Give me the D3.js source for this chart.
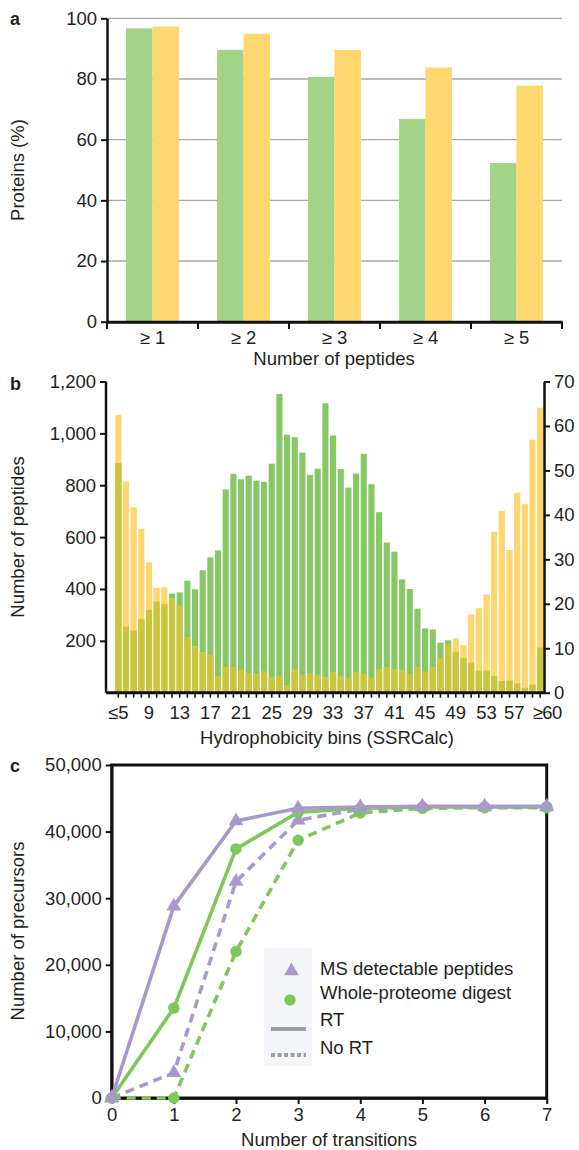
<!DOCTYPE html>
<html>
<head>
<meta charset="utf-8">
<script src="https://cdn.jsdelivr.net/npm/d3@7"></script>
<style>
  body { margin: 0; background: #fff; }
  svg text { font-family: "Liberation Sans", Arial, sans-serif; fill: #231f20; }
</style>
</head>
<body>
<svg id="chart" width="579" height="1150"></svg>
<script>
// ---- panel a: proteins covered by peptides
const catsA = ["≥ 1", "≥ 2", "≥ 3", "≥ 4", "≥ 5"];
const greenA = [96.7, 89.6, 80.7, 66.8, 52.3];
const yellowA = [97.3, 94.9, 89.6, 83.8, 77.8];
const ticksA = [0, 20, 40, 60, 80, 100];

// ---- panel b: hydrophobicity bins
const binsB = ["≤5","6","7","8","9","10","11","12","13","14","15","16","17","18","19","20",
  "21","22","23","24","25","26","27","28","29","30","31","32","33","34","35","36","37","38",
  "39","40","41","42","43","44","45","46","47","48","49","50","51","52","53","54","55","56",
  "57","58","59","≥60"];
const labelledB = ["≤5","9","13","17","21","25","29","33","37","41","45","49","53","57","≥60"];
const greenB = [885, 255, 239, 283, 319, 351, 342, 382, 387, 432, 399, 472, 522, 549,
  784, 844, 823, 837, 818, 813, 883, 1152, 995, 985, 926, 840, 864, 1116, 992, 862,
  791, 845, 921, 804, 696, 579, 544, 437, 400, 324, 248, 244, 193, 202, 158, 134,
  116, 85, 86, 65, 45, 46, 36, 19, 31, 174];
const yellowB = [62.5, 47.5, 41.7, 36.8, 29.3, 23.6, 23.7, 21.2, 19.5, 12.5, 10.4, 9.1, 8.5, 3.6,
  5.7, 5.7, 5.1, 4.3, 4.1, 4.7, 3.4, 3.7, 1.7, 5.0, 3.8, 4.3, 3.8, 3.5, 4.6, 3.7,
  3.2, 4.6, 4.2, 3.2, 5.3, 5.7, 5.3, 5.1, 4.2, 5.7, 4.5, 5.7, 7.8, 10.8, 12.2, 10.7,
  17.6, 19.0, 22.1, 36.2, 40.9, 32.1, 45.0, 42.4, 56.9, 64.1];
const ticksBLeft = [200, 400, 600, 800, 1000, 1200];
const ticksBRight = [0, 10, 20, 30, 40, 50, 60, 70];

// ---- panel c: precursors vs transitions
const transitions = [0, 1, 2, 3, 4, 5, 6, 7];
const msRT    = [0, 28800, 41600, 43500, 43700, 43800, 43800, 43800];
const wpRT    = [0, 13500, 37400, 42900, 43500, 43700, 43700, 43700];
const msNoRT  = [0, 3800, 32500, 41700, 43400, 43700, 43700, 43700];
const wpNoRT  = [0, 0, 22000, 38700, 42800, 43500, 43600, 43600];
const ticksC = [0, 10000, 20000, 30000, 40000, 50000];
const legendC = ["MS detectable peptides", "Whole-proteome digest", "RT", "No RT"];

const FS = 18.5;
const svg = d3.select("#chart");

function styleAxis(g, w) {
  g.selectAll(".domain").attr("stroke", "#111").attr("stroke-width", w || 2.5);
  g.selectAll(".tick line").attr("stroke", "#111").attr("stroke-width", 2);
  g.selectAll(".tick text").style("font-size", FS + "px").attr("fill", "#231f20");
}

// ================= panel a
{
  const x = d3.scaleBand().domain(catsA).range([107, 562]);
  const y = d3.scaleLinear().domain([0, 100]).range([321.7, 18.3]);
  const sub = d3.scaleBand().domain(["g", "y"]).range([0, x.bandwidth()]).paddingOuter(0.72);
  const g = svg.append("g");

  // grid
  g.selectAll(".grid").data(ticksA.filter(d => d > 0)).enter()
    .append("line")
      .attr("x1", 107).attr("x2", 562)
      .attr("y1", d => y(d)).attr("y2", d => y(d))
      .attr("stroke", "#a7a7a7").attr("stroke-width", 1.3);

  const grp = g.selectAll(".grp").data(catsA).enter()
    .append("g").attr("transform", d => "translate(" + x(d) + ",0)");
  grp.append("rect")
    .attr("x", sub("g")).attr("width", sub.bandwidth())
    .attr("y", (d, i) => y(greenA[i])).attr("height", (d, i) => y(0) - y(greenA[i]))
    .attr("fill", "#a3d289");
  grp.append("rect")
    .attr("x", sub("y")).attr("width", sub.bandwidth())
    .attr("y", (d, i) => y(yellowA[i])).attr("height", (d, i) => y(0) - y(yellowA[i]))
    .attr("fill", "#ffd76f");

  const ya = g.append("g").attr("transform", "translate(107,0)")
    .call(d3.axisLeft(y).tickValues(ticksA).tickSize(6).tickSizeOuter(0).tickPadding(4));
  styleAxis(ya);

  const xa = g.append("g").attr("transform", "translate(0,321.7)")
    .call(d3.axisBottom(x).tickSize(0).tickPadding(9));
  styleAxis(xa);
  xa.select(".domain").attr("stroke-width", 3);
  // boundary ticks
  const edges = catsA.map(c => x(c)).concat([x(catsA[4]) + x.bandwidth()]);
  g.selectAll(".edge").data(edges).enter().append("line")
    .attr("x1", d => d).attr("x2", d => d)
    .attr("y1", 321.7).attr("y2", 329)
    .attr("stroke", "#111").attr("stroke-width", 2);

  g.append("text").attr("x", 334).attr("y", 365).attr("text-anchor", "middle")
    .style("font-size", FS + "px").text("Number of peptides");
  g.append("text").attr("transform", "translate(24,170) rotate(-90)")
    .attr("text-anchor", "middle").style("font-size", FS + "px").text("Proteins (%)");
  g.append("text").attr("x", 10).attr("y", 25).style("font-size", "18px")
    .style("font-weight", "bold").text("a");
}

// ================= panel b
{
  const x = d3.scaleBand().domain(binsB).range([114.5, 544]).paddingInner(0.2).paddingOuter(0.1);
  const yL = d3.scaleLinear().domain([0, 1200]).range([692.7, 381.5]);
  const yR = d3.scaleLinear().domain([0, 70]).range([692.7, 381.5]);
  const g = svg.append("g");

  const bars = g.selectAll(".bin").data(binsB).enter()
    .append("g").attr("transform", d => "translate(" + x(d) + ",0)");
  bars.append("rect")
    .attr("width", x.bandwidth())
    .attr("y", (d, i) => yL(greenB[i])).attr("height", (d, i) => yL(0) - yL(greenB[i]))
    .attr("fill", "#88c766");
  bars.append("rect")
    .attr("width", x.bandwidth())
    .attr("y", (d, i) => yR(yellowB[i])).attr("height", (d, i) => yR(0) - yR(yellowB[i]))
    .attr("fill", "#ffd66e");
  // overlap of the two series
  bars.append("rect")
    .attr("width", x.bandwidth())
    .attr("y", (d, i) => Math.max(yL(greenB[i]), yR(yellowB[i])))
    .attr("height", (d, i) => yL(0) - Math.max(yL(greenB[i]), yR(yellowB[i])))
    .attr("fill", "#c9c53d");

  const yla = g.append("g").attr("transform", "translate(106,0)")
    .call(d3.axisLeft(yL).tickValues(ticksBLeft).tickFormat(d3.format(",")).tickSize(6).tickSizeOuter(0).tickPadding(4));
  styleAxis(yla);
  yla.select(".domain").attr("d", "M0,692.7V381.5");
  const yra = g.append("g").attr("transform", "translate(544,0)")
    .call(d3.axisRight(yR).tickValues(ticksBRight).tickSize(6).tickSizeOuter(0).tickPadding(4));
  styleAxis(yra);

  const xa = g.append("g").attr("transform", "translate(0,692.7)")
    .call(d3.axisBottom(x).tickSize(5).tickSizeOuter(0).tickPadding(8)
      .tickFormat(d => labelledB.includes(d) ? d : ""));
  styleAxis(xa);
  xa.select(".domain").attr("d", "M106,0H544").attr("stroke-width", 3);
  xa.selectAll(".tick line").attr("stroke-width", 1.6);
  // the last two labels sit tight together, as in the print
  xa.selectAll(".tick text").filter(d => d === "≥60").attr("dx", 7).attr("letter-spacing", -0.6);
  xa.selectAll(".tick text").filter(d => d === "57").attr("dx", -3);

  g.append("text").attr("x", 327).attr("y", 744).attr("text-anchor", "middle")
    .style("font-size", FS + "px").text("Hydrophobicity bins (SSRCalc)");
  g.append("text").attr("transform", "translate(24,537) rotate(-90)")
    .attr("text-anchor", "middle").style("font-size", FS + "px").text("Number of peptides");
  g.append("text").attr("x", 10).attr("y", 390).style("font-size", "18px")
    .style("font-weight", "bold").text("b");
}

// ================= panel c
{
  const x = d3.scaleLinear().domain([0, 7]).range([111.7, 546.7]);
  const y = d3.scaleLinear().domain([0, 50000]).range([1098, 765]);
  const g = svg.append("g");
  const purple = "#a898cc", green = "#7ec75b";

  const ya = g.append("g").attr("transform", "translate(111.7,0)")
    .call(d3.axisLeft(y).tickValues(ticksC).tickFormat(d3.format(",")).tickSize(6).tickSizeOuter(0).tickPadding(4));
  styleAxis(ya);
  const xa = g.append("g").attr("transform", "translate(0,1098)")
    .call(d3.axisBottom(x).tickValues(transitions).tickFormat(d3.format("d")).tickSize(6).tickSizeOuter(0).tickPadding(4));
  styleAxis(xa);

  g.append("rect").attr("x", 111.7).attr("y", 765)
    .attr("width", 435).attr("height", 333)
    .attr("fill", "none").attr("stroke", "#111").attr("stroke-width", 3);

  // legend background
  g.append("rect").attr("x", 264).attr("y", 948).attr("width", 48).attr("height", 118)
    .attr("fill", "#f4f5f8");

  const line = d3.line().x((d, i) => x(transitions[i])).y(d => y(d));
  const series = [
    { v: wpNoRT, c: green, dash: "9,6", m: "circle" },
    { v: msNoRT, c: purple, dash: "9,6", m: "triangle" },
    { v: wpRT, c: green, dash: null, m: "circle" },
    { v: msRT, c: purple, dash: null, m: "triangle" }
  ];
  const tri = d3.symbol().type(d3.symbolTriangle).size(95);
  const dot = d3.symbol().type(d3.symbolCircle).size(105);
  series.forEach(s => {
    g.append("path").datum(s.v)
      .attr("d", line).attr("fill", "none")
      .attr("stroke", s.c).attr("stroke-width", 3.6)
      .attr("stroke-dasharray", s.dash);
    g.selectAll(null).data(s.v).enter().append("path")
      .attr("transform", (d, i) => "translate(" + x(transitions[i]) + "," + y(d) + ")")
      .attr("d", s.m === "circle" ? dot() : tri())
      .attr("fill", s.c);
  });

  // legend
  const lg = g.append("g");
  lg.append("path").attr("transform", "translate(291.5,971)").attr("d", tri()).attr("fill", purple);
  lg.append("path").attr("transform", "translate(290,1000)").attr("d", dot()).attr("fill", green);
  lg.append("line").attr("x1", 271).attr("x2", 306).attr("y1", 1029).attr("y2", 1029)
    .attr("stroke", "#9aa1a8").attr("stroke-width", 4);
  lg.append("line").attr("x1", 271).attr("x2", 306).attr("y1", 1055).attr("y2", 1055)
    .attr("stroke", "#9aa1a8").attr("stroke-width", 4).attr("stroke-dasharray", "4,2.5");
  const ly = [969, 993, 1020, 1048];
  lg.selectAll(".lt").data(legendC).enter().append("text")
    .attr("x", 320).attr("y", (d, i) => ly[i]).attr("dy", "0.35em")
    .style("font-size", FS + "px").text(d => d);

  g.append("text").attr("x", 329).attr("y", 1146).attr("text-anchor", "middle")
    .style("font-size", FS + "px").text("Number of transitions");
  g.append("text").attr("transform", "translate(24,931) rotate(-90)")
    .attr("text-anchor", "middle").style("font-size", FS + "px").text("Number of precursors");
  g.append("text").attr("x", 10).attr("y", 772).style("font-size", "18px")
    .style("font-weight", "bold").text("c");
}
</script>
</body>
</html>
